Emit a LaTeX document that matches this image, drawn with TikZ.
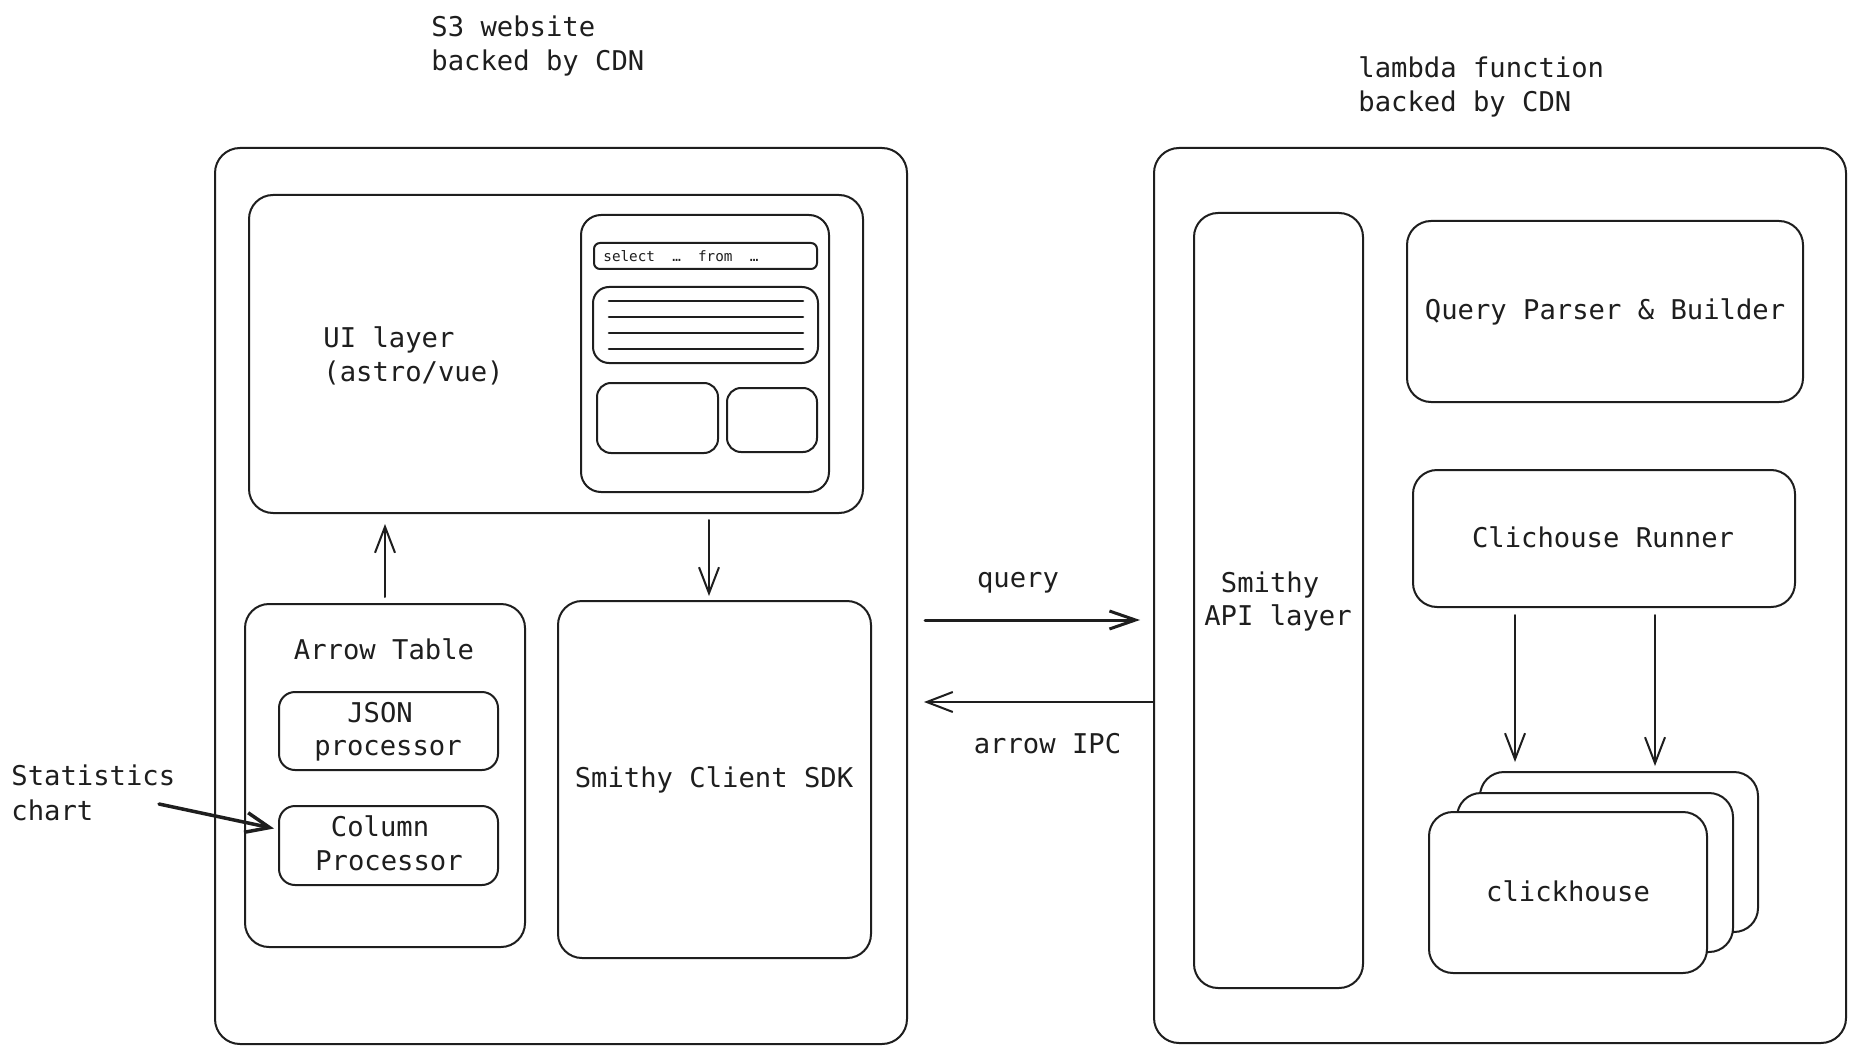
\documentclass[tikz,border=0pt]{standalone}
\usepackage{fontspec}
\newfontfamily\monof{DejaVu Sans Mono}
\usetikzlibrary{arrows.meta,calc,fit}
\definecolor{ink}{HTML}{1E1E1E}
\begin{document}
\begin{tikzpicture}[x=0.5pt,y=-0.5pt,
  box/.style={draw=ink, line width=1pt, inner sep=0pt, rounded corners=12pt},
  sbox/.style={box, rounded corners=8pt},
  lbl/.style={text=ink, font=\monof\fontsize{13.6pt}{17pt}\selectfont, inner sep=0pt, anchor=base},
  lblw/.style={lbl, anchor=base west},
  arr/.style={draw=ink, line width=1pt, -{Straight Barb[length=13pt,width=10pt,line width=1pt]}, line cap=round, line join=round}
]
\useasboundingbox[fill=white] (0,0) rectangle (1855,1053);

% ---------- left container ----------
\node[box, rounded corners=12.5pt, fit={(215,148) (907,1044)}] (leftouter) {};
\node[lblw] (s3a) at (431,36.5) {S3 website};
\node[lblw] (s3b) at (431,71) {backed by CDN};

\node[box, fit={(249,195) (863,513)}] (uibox) {};
\node[lblw] (ui1) at (323,347) {UI layer};
\node[lblw] (ui2) at (323,381) {(astro/vue)};

\node[box, rounded corners=10pt, fit={(581,215) (829,492)}] (mock) {};
\node[box, rounded corners=3pt, fit={(594,243) (817,269)}] (selbar) {};
\node[lblw, font=\monof\fontsize{7.15pt}{9pt}\selectfont] (seltxt) at (603,262) {select\ \ …\ \ from\ \ …};
\node[sbox, fit={(593,287) (818,363)}] (list) {};
\foreach \yy in {301,317,333,349}{
  \draw[ink, line width=1.3pt, line cap=round] (609,\yy) -- (803,\yy);
}
\node[sbox, rounded corners=7pt, fit={(597,383) (718,453)}] (card1) {};
\node[sbox, rounded corners=7pt, fit={(727,388) (817,452)}] (card2) {};

\node[box, fit={(245,604) (525,947)}] (arrowtable) {};
\node[lbl] (attxt) at (384,659) {Arrow Table};
\node[sbox, fit={(279,692) (498,770)}] (jsonp) {};
\node[lbl] (j1) at (380,722) {JSON};
\node[lbl] (j2) at (388,755) {processor};
\node[sbox, fit={(279,806) (498,885)}] (colp) {};
\node[lbl] (c1) at (380,836) {Column};
\node[lbl] (c2) at (389,870) {Processor};

\node[box, fit={(558,601) (871,958)}] (sdk) {};
\node[lbl] (sdktxt) at (714,787) {Smithy Client SDK};

\node[lblw] (st1) at (11,785) {Statistics};
\node[lblw] (st2) at (11,820) {chart};
\coordinate (stfrom) at (159,804);

% ---------- right container ----------
\node[box, rounded corners=12.5pt, fit={(1154,148) (1846,1043)}] (rightouter) {};
\node[lblw] (la1) at (1358,78) {lambda function};
\node[lblw] (la2) at (1358,112) {backed by CDN};

\node[box, fit={(1194,213) (1363,988)}] (api) {};
\node[lbl] (api1) at (1270,592) {Smithy};
\node[lbl] (api2) at (1278,625) {API layer};

\node[box, fit={(1407,221) (1803,402)}] (qpb) {};
\node[lbl] (qpbtxt) at (1605,320) {Query Parser \& Builder};

\node[box, fit={(1413,470) (1795,607)}] (runner) {};
\node[lbl] (runtxt) at (1603,547) {Clichouse Runner};

\node[box, fill=white, fit={(1480,772) (1758,932)}] (ch3) {};
\node[box, fill=white, fit={(1457,793) (1733,952)}] (ch2) {};
\node[box, fill=white, fit={(1429,812) (1707,973)}] (ch1) {};
\node[lbl] (chtxt) at (1568,901) {clickhouse};

% ---------- middle labels ----------
\node[lbl] (qtxt) at (1018,587) {query};
\node[lbl] (ipctxt) at (1047.5,753) {arrow IPC};
\coordinate (qstart) at (925,620);
\coordinate (ipcend) at (924,702);
\coordinate (downx) at (709,520);
\coordinate (r1) at (1515,615);
\coordinate (r2) at (1655,615);

% ---------- connectors ----------
\draw[arr, shorten >=5pt] ([yshift=3pt]arrowtable.north) -- (arrowtable.north |- uibox.south);
\draw[arr, shorten >=2pt] (downx) -- (downx |- sdk.north);
\draw[arr, line width=1.75pt, -{Straight Barb[length=12pt,width=10pt,line width=1.75pt]}] (stfrom) -- ($(colp.west)+(-4,-17)$);
\draw[arr, line width=1.5pt, -{Straight Barb[length=13pt,width=9pt,line width=1.5pt]}, shorten >=6.5pt] (qstart) -- (qstart -| rightouter.west);
\draw[arr] (ipcend -| rightouter.west) -- (ipcend);
\draw[arr, shorten >=4.5pt] (r1) -- (r1 |- ch3.north);
\draw[arr, shorten >=2.5pt] (r2) -- (r2 |- ch3.north);
\end{tikzpicture}
\end{document}
